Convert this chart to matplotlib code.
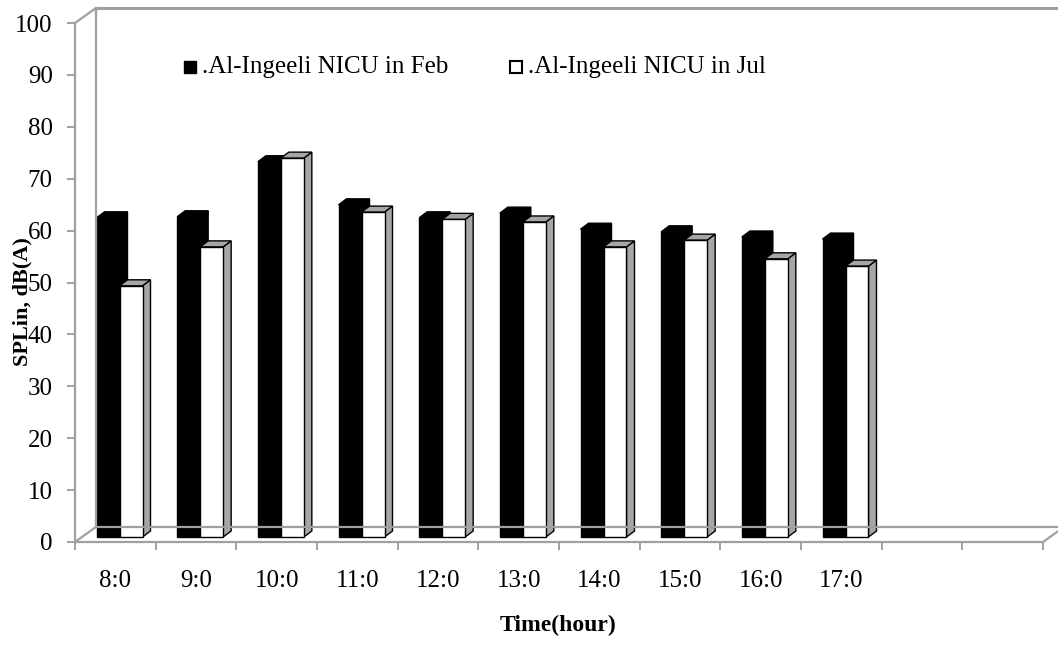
import matplotlib.pyplot as plt
from matplotlib.patches import Polygon

hours = ["8:0", "9:0", "10:0", "11:0", "12:0", "13:0", "14:0", "15:0", "16:0", "17:0"]
feb = [61.5, 61.7, 72.3, 64.0, 61.5, 62.4, 59.3, 58.8, 57.8, 57.4]
jul = [48.4, 55.9, 73.0, 62.6, 61.2, 60.7, 55.9, 57.2, 53.6, 52.2]
n_slots = 12  # excel left two empty categories at the end

plt.rcParams['font.family'] = ['Liberation Serif', 'DejaVu Serif']

fig = plt.figure(figsize=(10.58, 6.46), dpi=100)
ax = fig.add_axes([75/1058, 104/646, 968/1058, 519/646])
ax.set_xlim(0, n_slots)
ax.set_ylim(0, 100)

# pixel -> data conversions (80.67 px per category, 5.19 px per unit)
px_x = n_slots / 968
px_y = 100 / 519

wall = '#a0a0a0'
wdx, wdy = 21*px_x, 15*px_y   # wall depth
bdx, bdy = 7*px_x, 5*px_y     # where bars stand
tdx, tdy = 8*px_x, 6*px_y     # bar depth

# walls / floor
ax.plot([0, wdx], [0, wdy], color=wall, lw=1.6, clip_on=False)
ax.plot([0, wdx], [100, 100+wdy], color=wall, lw=1.6, clip_on=False)
ax.plot([wdx, wdx], [wdy, 100+wdy], color=wall, lw=1.6, clip_on=False)
ax.plot([wdx, n_slots+wdx], [100+wdy, 100+wdy], color=wall, lw=2.2, clip_on=False)
ax.plot([wdx, n_slots+wdx], [wdy, wdy], color=wall, lw=1.6, clip_on=False)
ax.plot([n_slots, n_slots+wdx], [0, wdy], color=wall, lw=1.6, clip_on=False)


def bar3d(x0, w, h, face, top, side):
    b = bdy
    x0 = x0 + bdx
    ax.add_patch(Polygon([(x0+w, b), (x0+w+tdx, b+tdy), (x0+w+tdx, b+h+tdy), (x0+w, b+h)],
                         facecolor=side, edgecolor='black', lw=1, clip_on=False))
    ax.add_patch(Polygon([(x0, b+h), (x0+tdx, b+h+tdy), (x0+w+tdx, b+h+tdy), (x0+w, b+h)],
                         facecolor=top, edgecolor='black', lw=1, clip_on=False))
    ax.add_patch(Polygon([(x0, b), (x0+w, b), (x0+w, b+h), (x0, b+h)],
                         facecolor=face, edgecolor='black', lw=1, clip_on=False))


w = 0.285
for i in range(len(hours)):
    bar3d(i + 0.18, w, feb[i], 'black', 'black', 'black')
    bar3d(i + 0.18 + w, w, jul[i], 'white', '#a6a6a6', '#a6a6a6')

# axes look
for s in ['top', 'right']:
    ax.spines[s].set_visible(False)
ax.spines['left'].set_color(wall)
ax.spines['bottom'].set_color(wall)
ax.spines['left'].set_linewidth(1.6)
ax.spines['bottom'].set_linewidth(1.6)

ax.set_yticks(range(0, 101, 10))
ax.tick_params(axis='y', colors=wall, labelcolor='black', length=6, width=1.4,
               pad=10, labelsize=18)
ax.set_xticks(range(0, n_slots+1))
ax.set_xticklabels([])
ax.set_xticks([i + 0.5 for i in range(len(hours))], minor=True)
ax.set_xticklabels(hours, minor=True)
ax.tick_params(axis='x', which='major', colors=wall, length=6, width=1.4)
ax.tick_params(axis='x', which='minor', length=0, pad=20, labelsize=18)

# legend drawn by hand
ax.plot([1.43], [91.5], marker='s', color='black', ms=8.5, clip_on=False)
ax.text(1.57, 91.5, ".Al-Ingeeli NICU in Feb", fontsize=18, va='center')
ax.plot([5.47], [91.5], marker='s', markerfacecolor='white', markeredgecolor='black',
        mew=1.5, ms=8.5, clip_on=False)
ax.text(5.62, 91.5, ".Al-Ingeeli NICU in Jul", fontsize=18, va='center')

fig.text(22/1058, 1 - 302/646, "SPLin, dB(A)", rotation=90, fontsize=16,
         fontweight='bold', ha='center', va='center')
fig.text(558/1058, 1 - 625/646, "Time(hour)", fontsize=17, fontweight='bold',
         ha='center', va='center')

fig.savefig("out.png", dpi=100)
